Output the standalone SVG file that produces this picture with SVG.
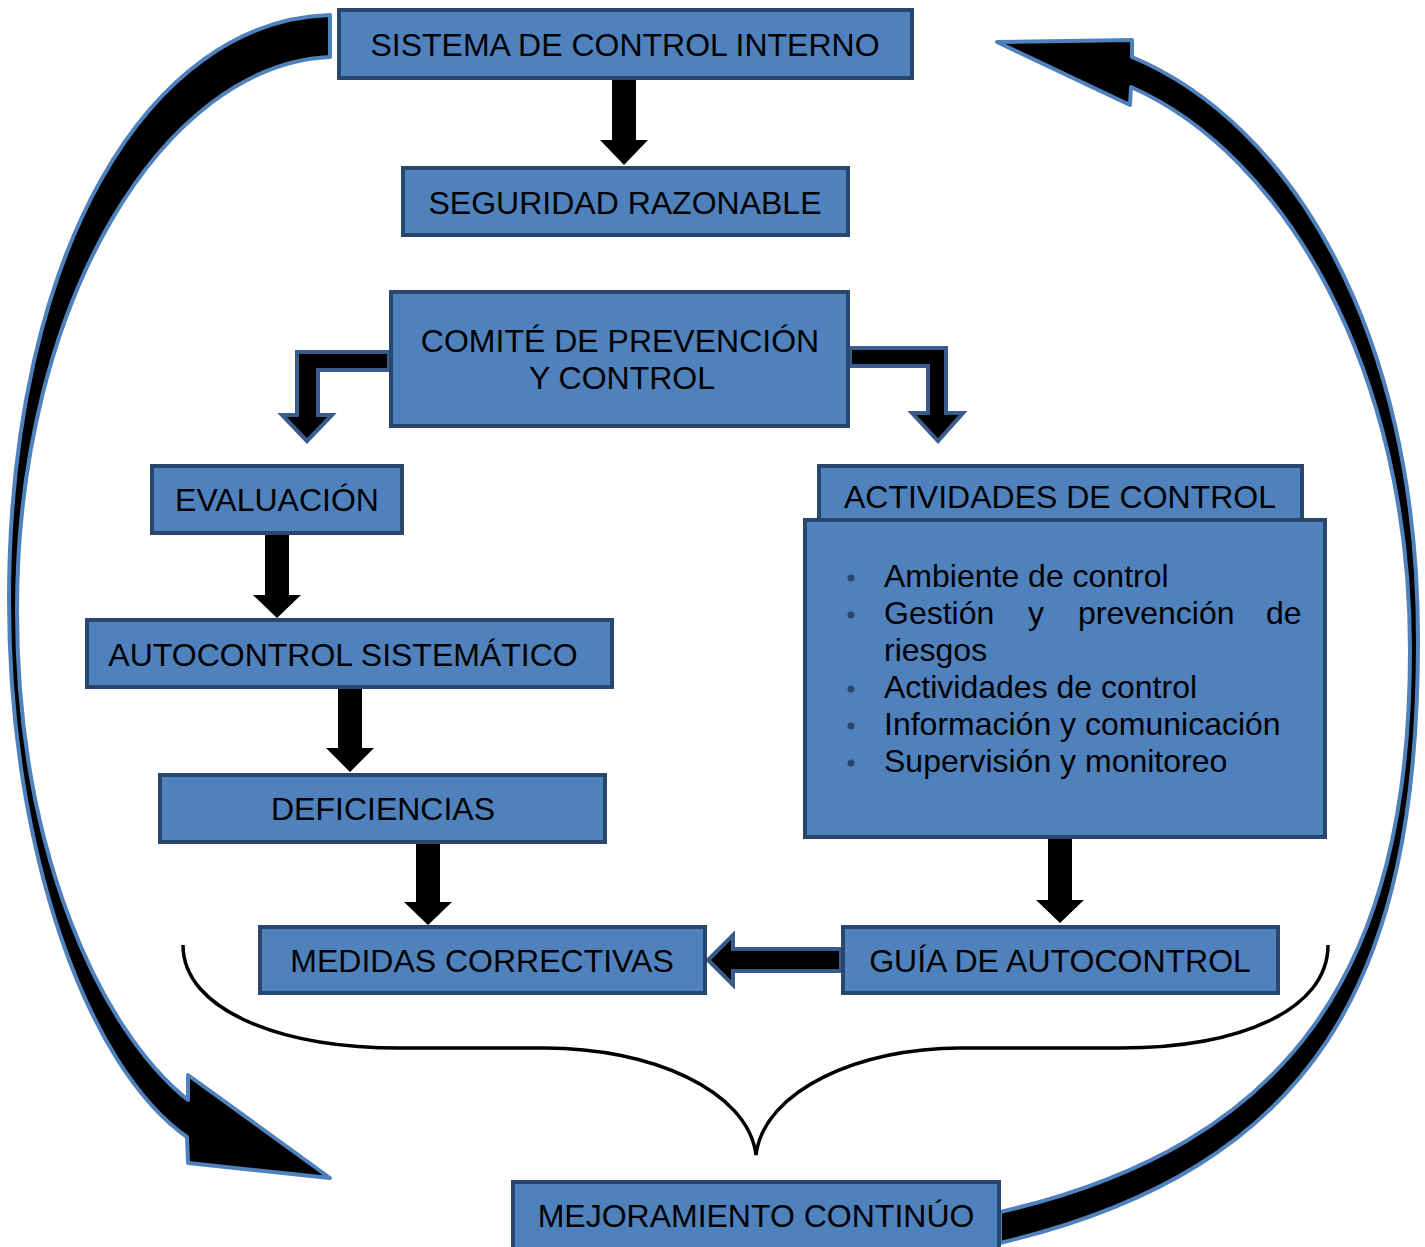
<svg xmlns="http://www.w3.org/2000/svg" width="1425" height="1247" viewBox="0 0 1425 1247">
<style>
.box{fill:#4F81BD;stroke:#29476E;stroke-width:4}
.t{font-family:"Liberation Sans",Arial,sans-serif;font-size:32px;fill:#000;text-anchor:middle}
.l{font-family:"Liberation Sans",Arial,sans-serif;font-size:32px;fill:#000}
.blk{fill:#000}
.bent{fill:#000;stroke:#385D8A;stroke-width:4;stroke-linejoin:miter}
.arc{fill:#000;stroke:#4F81BD;stroke-width:4;stroke-linejoin:round}
.brace{fill:none;stroke:#000;stroke-width:3.5;stroke-linecap:butt}
.dot{fill:#29476E}
</style>
<rect width="1425" height="1247" fill="#fff"/>
<g id="connectors">
  <path class="arc" d="M330,15 C150,20 9,250 9,600 C9,850 87,1067 187,1137 L188,1163 L330,1178 L188,1075 L188,1100 C100,1030 17,850 17,610 C17,300 165,64 330,57 Z"/>
  <path class="arc" d="M997,42 L1132,40 L1132,57 C1290,123 1418,330 1418,640 C1418,980 1315,1168 1000,1243 L1000,1212 C1290,1145 1410,970 1410,650 C1410,370 1285,155 1131,87 L1130,105 Z"/>
  <polygon class="blk" points="612,78 636,78 636,140 648,140 624,165 600,140 612,140"/>
  <polygon class="bent" points="389,352 297,352 297,415 282,415 307,441 332,415 318,415 318,370 389,370"/>
  <polygon class="bent" points="850,348 946,348 946,413 963,413 938,441 912,413 928,413 928,366 850,366"/>
  <polygon class="blk" points="265,533 289,533 289,595 301,595 277,618 253,595 265,595"/>
  <polygon class="blk" points="338,687 362,687 362,748 374,748 350,772 326,748 338,748"/>
  <polygon class="blk" points="416,842 440,842 440,902 452,902 428,925 404,902 416,902"/>
  <polygon class="blk" points="1048,837 1072,837 1072,900 1084,900 1060,923 1036,900 1048,900"/>
  <polygon class="bent" points="841,949 733,949 733,935 708,960 733,985 733,971 841,971"/>
  <path class="brace" d="M183,945 C183,1010 280,1048 400,1048 L545,1048 C650,1048 748,1090 756,1155 C764,1090 860,1048 960,1048 L1120,1048 C1240,1048 1328,1010 1328,945"/>
</g>
<g id="n1"><rect class="box" x="339" y="10" width="573" height="68"/><text class="t" x="625" y="56">SISTEMA DE CONTROL INTERNO</text></g>
<g id="n2"><rect class="box" x="403" y="168" width="445" height="67"/><text class="t" x="625" y="214">SEGURIDAD RAZONABLE</text></g>
<g id="n3"><rect class="box" x="391" y="292" width="457" height="134"/><text class="t" x="620" y="352">COMITÉ DE PREVENCIÓN</text><text class="t" x="622" y="389">Y CONTROL</text></g>
<g id="n4"><rect class="box" x="152" y="466" width="250" height="67"/><text class="t" x="277" y="511">EVALUACIÓN</text></g>
<g id="n5"><rect class="box" x="87" y="620" width="525" height="67"/><text class="t" x="343" y="666">AUTOCONTROL SISTEMÁTICO</text></g>
<g id="n6"><rect class="box" x="160" y="775" width="445" height="67"/><text class="t" x="383" y="820">DEFICIENCIAS</text></g>
<g id="n7"><rect class="box" x="260" y="927" width="445" height="66"/><text class="t" x="482" y="972">MEDIDAS CORRECTIVAS</text></g>
<g id="n8"><rect class="box" x="843" y="927" width="435" height="66"/><text class="t" x="1060" y="972">GUÍA DE AUTOCONTROL</text></g>
<g id="n9"><rect class="box" x="819" y="466" width="483" height="60"/><text class="t" x="1060" y="508">ACTIVIDADES DE CONTROL</text></g>
<g id="n10"><rect class="box" x="805" y="520" width="520" height="317"/>
  <circle class="dot" cx="851" cy="578" r="3.5"/>
  <circle class="dot" cx="851" cy="615" r="3.5"/>
  <circle class="dot" cx="851" cy="689" r="3.5"/>
  <circle class="dot" cx="851" cy="726" r="3.5"/>
  <circle class="dot" cx="851" cy="763" r="3.5"/>
  <text class="l" x="884" y="587">Ambiente de control</text>
  <text class="l" y="624"><tspan x="884">Gestión</tspan><tspan x="1028">y</tspan><tspan x="1078">prevención</tspan><tspan x="1266">de</tspan></text>
  <text class="l" x="884" y="661">riesgos</text>
  <text class="l" x="884" y="698">Actividades de control</text>
  <text class="l" x="884" y="735">Información y comunicación</text>
  <text class="l" x="884" y="772">Supervisión y monitoreo</text>
</g>
<g id="n11"><rect class="box" x="513" y="1182" width="486" height="70"/><text class="t" x="756" y="1227">MEJORAMIENTO CONTINÚO</text></g>
</svg>
